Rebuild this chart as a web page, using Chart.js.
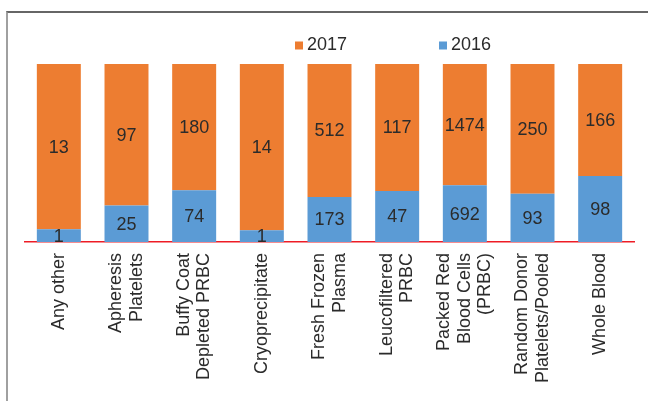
<!DOCTYPE html>
<html>
<head>
<meta charset="utf-8">
<script src="https://cdn.jsdelivr.net/npm/chart.js@4"></script>
<style>
  html, body { margin: 0; padding: 0; background: #fff; overflow: hidden; }
  #wrap { position: relative; width: 648px; height: 401px; }
  #frame { position: absolute; left: 6px; top: 11px; width: 700px; height: 500px;
           border-top: 2px solid #666; border-left: 2px solid #a0a0a0; pointer-events: none; }
  canvas { position: absolute; left: 0; top: 0; }
</style>
</head>
<body>
<div id="wrap">
  <canvas id="c" width="648" height="401"></canvas>
  <div id="frame"></div>
</div>
<script>
const categories = [
  ["Any other"],
  ["Apheresis", "Platelets"],
  ["Buffy Coat", "Depleted PRBC"],
  ["Cryoprecipitate"],
  ["Fresh Frozen", "Plasma"],
  ["Leucofiltered", "PRBC"],
  ["Packed Red", "Blood Cells", "(PRBC)"],
  ["Random Donor", "Platelets/Pooled"],
  ["Whole Blood"]
];
const values2017 = [13, 97, 180, 14, 512, 117, 1474, 250, 166];
const values2016 = [1, 25, 74, 1, 173, 47, 692, 93, 98];
const seriesNames = ["2017", "2016"];

const totals = values2017.map((v, i) => v + values2016[i]);
const pct2017 = values2017.map((v, i) => v / totals[i] * 100);
const pct2016 = values2016.map((v, i) => v / totals[i] * 100);

const FONT = '18px "Liberation Sans", Arial, sans-serif';
const TEXT = '#2b2b2b';

const valueLabels = {
  id: 'valueLabels',
  afterDatasetsDraw(chart) {
    const ctx = chart.ctx;
    ctx.save();
    ctx.font = FONT;
    ctx.fillStyle = TEXT;
    ctx.textAlign = 'center';
    ctx.textBaseline = 'middle';
    chart.data.datasets.forEach((ds, di) => {
      const meta = chart.getDatasetMeta(di);
      meta.data.forEach((el, i) => {
        const y = (el.y + el.base) / 2;
        ctx.fillText(String(ds.raw[i]), el.x, y + 1);
      });
    });
    ctx.restore();
  }
};

const catLabels = {
  id: 'catLabels',
  afterDraw(chart) {
    const ctx = chart.ctx;
    const xs = chart.scales.x;
    const lh = 20.5;
    ctx.save();
    ctx.font = FONT;
    ctx.fillStyle = TEXT;
    ctx.textAlign = 'right';
    ctx.textBaseline = 'middle';
    categories.forEach((lines, i) => {
      const cx = xs.getPixelForValue(i);
      const n = lines.length;
      lines.forEach((line, j) => {
        const x = cx + (j - (n - 1) / 2) * lh;
        ctx.save();
        ctx.translate(x, chart.chartArea.bottom + 11);
        ctx.rotate(-Math.PI / 2);
        ctx.fillText(line, 0, 0);
        ctx.restore();
      });
    });
    ctx.restore();
  }
};

const customLegend = {
  id: 'customLegend',
  afterDraw(chart) {
    const ctx = chart.ctx;
    ctx.save();
    ctx.font = FONT;
    ctx.textBaseline = 'middle';
    ctx.textAlign = 'left';
    const startX = 295, stepX = 144, cy = 45.5, box = 8;
    seriesNames.forEach((name, k) => {
      const ds = chart.data.datasets.find(d => d.label === name);
      const x = startX + k * stepX;
      ctx.fillStyle = ds.backgroundColor;
      ctx.fillRect(x, cy - box / 2, box, box);
      ctx.fillStyle = TEXT;
      ctx.fillText(name, x + box + 4, cy);
    });
    ctx.restore();
  }
};

new Chart(document.getElementById('c'), {
  type: 'bar',
  data: {
    labels: categories.map(l => l.join(' ')),
    datasets: [
      { label: '2016', data: pct2016, raw: values2016, backgroundColor: '#5B9BD5',
        barPercentage: 0.65, categoryPercentage: 1 },
      { label: '2017', data: pct2017, raw: values2017, backgroundColor: '#ED7D31',
        barPercentage: 0.65, categoryPercentage: 1 }
    ]
  },
  options: {
    responsive: false,
    animation: false,
    layout: { padding: { left: 25, right: 14, top: 64, bottom: 0 } },
    plugins: { legend: { display: false }, tooltip: { enabled: false } },
    scales: {
      x: {
        stacked: true,
        grid: { display: false, drawTicks: false },
        ticks: { display: false },
        border: { display: true, color: '#ee1c25', width: 1.5 },
        afterFit(s) { s.height = 159; }
      },
      y: { stacked: true, display: false, min: 0, max: 100 }
    }
  },
  plugins: [valueLabels, catLabels, customLegend]
});
</script>
</body>
</html>
